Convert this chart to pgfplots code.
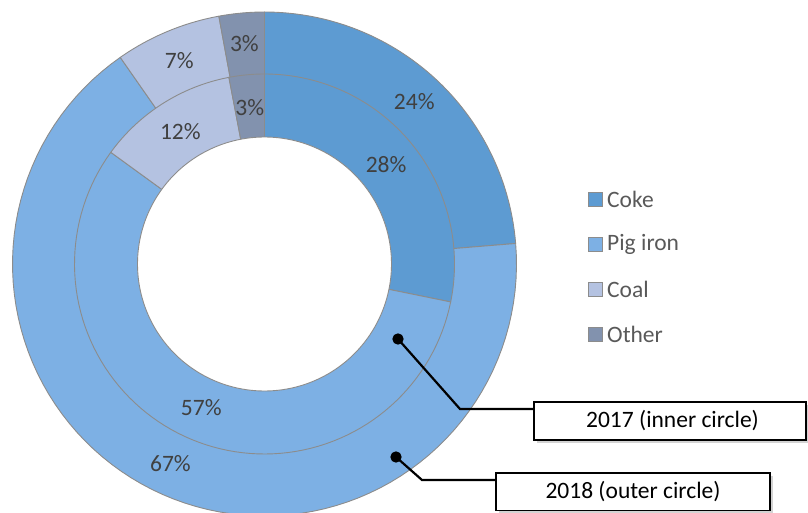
\documentclass[border=0pt]{standalone}
\usepackage{pgfplots}
\pgfplotsset{compat=1.18}
\usepackage{fontspec}
\setmainfont{Carlito}
\usetikzlibrary{shadows}
\definecolor{coke}{RGB}{93,155,210}
\definecolor{pig}{RGB}{125,176,228}
\definecolor{coal}{RGB}{180,194,225}
\definecolor{other}{RGB}{130,146,174}
\definecolor{edge}{RGB}{140,140,140}
\definecolor{lbl}{RGB}{64,64,64}
\definecolor{leg}{RGB}{89,89,89}

% shares in percent: Coke, Pig iron, Coal, Other
\def\outerCoke{23.7}\def\outerPig{66.6}\def\outerCoal{6.8}\def\outerOther{2.9}  % 2018
\def\innerCoke{28.2}\def\innerPig{56.8}\def\innerCoal{12.0}\def\innerOther{3.0} % 2017

% sector from cumulative share #1 to #2 (percent), radius #3, colour #4
\newcommand\sector[4]{%
  \pgfmathsetmacro\aA{90-3.6*(#2)}\pgfmathsetmacro\aB{90-3.6*(#1)}%
  \edef\doit{\noexpand\addplot[fill=#4, draw=edge, line width=0.9pt, line join=round,
     domain=\aA:\aB, samples=90] ({#3*cos(x)},{#3*sin(x)}) -- (axis cs:0,0) -- cycle;}\doit}
% label at cumulative mid share #1, radius #2, value #3
\newcommand\slabel[3]{%
  \pgfmathsetmacro\lx{#2*cos(90-3.6*(#1))}\pgfmathsetmacro\ly{#2*sin(90-3.6*(#1))}%
  \edef\doit{\noexpand\node[text=lbl] at (axis cs:\lx,\ly) {\noexpand\pgfmathprintnumber[fixed,precision=0,assume math mode=true]{#3}\noexpand\%};}\doit}
% ring: radius, label radius, four shares
\newcommand\ring[6]{%
  \pgfmathsetmacro\cA{#3}\pgfmathsetmacro\cB{#3+#4}\pgfmathsetmacro\cC{#3+#4+#5}\pgfmathsetmacro\cD{#3+#4+#5+#6}%
  \sector{0}{\cA}{#1}{coke}\sector{\cA}{\cB}{#1}{pig}\sector{\cB}{\cC}{#1}{coal}\sector{\cC}{\cD}{#1}{other}}
\newcommand\ringlabels[6]{%
  \pgfmathsetmacro\cA{#3}\pgfmathsetmacro\cB{#3+#4}\pgfmathsetmacro\cC{#3+#4+#5}\pgfmathsetmacro\cD{#3+#4+#5+#6}%
  \pgfmathsetmacro\mA{\cA/2}\slabel{\mA}{#2}{#3}%
  \pgfmathsetmacro\mB{(\cA+\cB)/2}\slabel{\mB}{#2}{#4}%
  \pgfmathsetmacro\mC{(\cB+\cC)/2}\slabel{\mC}{#2}{#5}%
  \pgfmathsetmacro\mD{(\cC+\cD)/2}\slabel{\mD}{#2}{#6}}

\begin{document}
\begin{tikzpicture}[font=\fontsize{23.5}{28}\selectfont]
\begin{axis}[
  x=1pt, y=1pt,
  xmin=-264.5, xmax=543.5, ymin=-248, ymax=264,
  enlargelimits=false, hide axis, clip=false,
]
% outer ring (2018) and inner ring (2017)
\ring{252}{221}{\outerCoke}{\outerPig}{\outerCoal}{\outerOther}
\ring{190}{157}{\innerCoke}{\innerPig}{\innerCoal}{\innerOther}
\addplot[fill=white, draw=edge, line width=0.9pt, domain=0:360, samples=181] ({127*cos(x)},{127*sin(x)}) -- cycle;
\ringlabels{252}{221}{\outerCoke}{\outerPig}{\outerCoal}{\outerOther}
\ringlabels{190}{157}{\innerCoke}{\innerPig}{\innerCoal}{\innerOther}

% legend
\node[fill=coke, draw=edge, line width=0.5pt, minimum size=14pt, inner sep=0pt] at (axis cs:330.5,64.5) {};
\node[fill=pig, draw=edge, line width=0.5pt, minimum size=14pt, inner sep=0pt] at (axis cs:330.5,19.5) {};
\node[fill=coal, draw=edge, line width=0.5pt, minimum size=14pt, inner sep=0pt] at (axis cs:330.5,-25) {};
\node[fill=other, draw=edge, line width=0.5pt, minimum size=14pt, inner sep=0pt] at (axis cs:330.5,-70) {};
\node[anchor=west, text=leg, inner sep=0pt] at (axis cs:342.5,64.5) {Coke};
\node[anchor=west, text=leg, inner sep=0pt] at (axis cs:342.5,19.5) {Pig iron};
\node[anchor=west, text=leg, inner sep=0pt] at (axis cs:342.5,-25) {Coal};
\node[anchor=west, text=leg, inner sep=0pt] at (axis cs:342.5,-70) {Other};

% callouts
\addplot[black, line width=2.2pt, mark=*, mark size=4.5pt, mark indices={1}, mark options={fill=black}]
  coordinates {(133.5,-75) (195.5,-145) (269.5,-145)};
\addplot[black, line width=2.2pt, mark=*, mark size=4.5pt, mark indices={1}, mark options={fill=black}]
  coordinates {(131.5,-193) (157.5,-216) (231.5,-216)};
\draw[line width=1.8pt, fill=white, drop shadow={opacity=0.35, shadow xshift=3pt, shadow yshift=-3pt}]
  (axis cs:269.5,-138) rectangle (axis cs:541.5,-176);
\node at (axis cs:408,-157) {2017 (inner circle)};
\draw[line width=1.8pt, fill=white, drop shadow={opacity=0.35, shadow xshift=3pt, shadow yshift=-3pt}]
  (axis cs:231.5,-209) rectangle (axis cs:505.5,-246.5);
\node at (axis cs:368.5,-228) {2018 (outer circle)};
\end{axis}
\pgfresetboundingbox
\useasboundingbox (current axis.south west) rectangle (current axis.north east);
\end{tikzpicture}
\end{document}
